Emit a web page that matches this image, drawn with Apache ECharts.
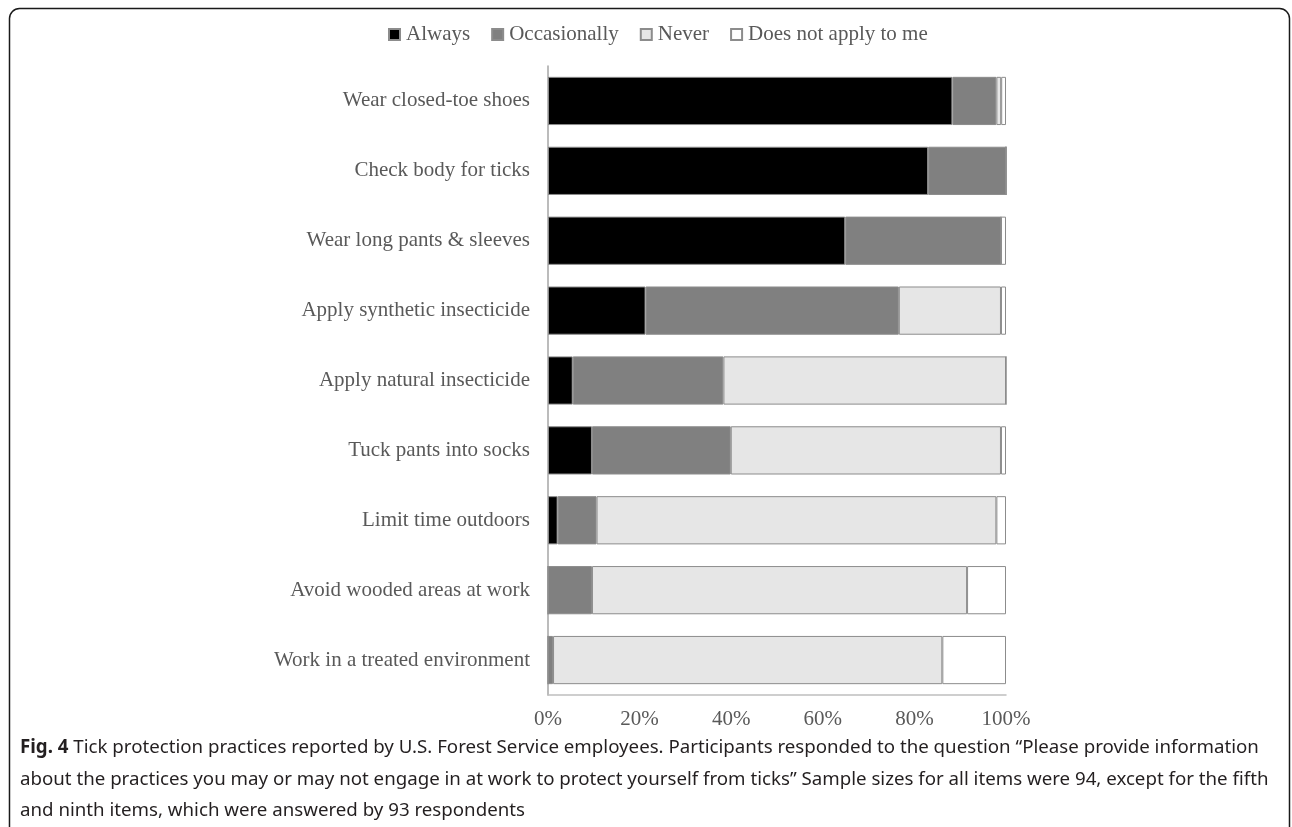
<!DOCTYPE html>
<html lang="en" style="height: 100%">
<head>
<meta charset="utf-8">
<title>Tick protection practices</title>
</head>
<body style="height: 100%; margin: 0; background: #fff">
<div id="container" style="width: 1292px; height: 827px"></div>

<script type="text/javascript" src="https://cdn.jsdelivr.net/npm/echarts/dist/echarts.min.js"></script>

<script type="text/javascript">
// practices, top to bottom
var categories = [
  'Wear closed-toe shoes',
  'Check body for ticks',
  'Wear long pants & sleeves',
  'Apply synthetic insecticide',
  'Apply natural insecticide',
  'Tuck pants into socks',
  'Limit time outdoors',
  'Avoid wooded areas at work',
  'Work in a treated environment'
];

// percent of respondents
var always       = [88.3, 83.0, 64.9, 21.3, 5.4, 9.6, 2.1, 0, 0];
var occasionally = [9.6, 17.0, 34.0, 55.3, 32.9, 30.3, 8.5, 9.6, 1.1];
var never        = [1.05, 0, 0, 22.3, 61.7, 59.0, 87.3, 81.9, 85.0];
var notApply     = [1.05, 0, 1.1, 1.1, 0, 1.1, 2.1, 8.5, 13.9];

var xTicks = [0, 20, 40, 60, 80, 100];

var serif = '"Liberation Serif", "Times New Roman", serif';
var sans = '"Noto Sans", "Open Sans", sans-serif';

var dom = document.getElementById('container');
var myChart = echarts.init(dom);

function makeSeries(name, data, color) {
  return {
    name: name,
    type: 'bar',
    stack: 'total',
    barCategoryGap: '31%',
    data: data,
    itemStyle: {
      color: color,
      borderColor: '#8c8c8c',
      borderWidth: 1
    }
  };
}

var option = {
  animation: false,
  backgroundColor: '#fff',
  title: {
    left: 15,
    top: 727,
    text: '{b|Fig. 4} Tick protection practices reported by U.S. Forest Service employees. Participants responded to the question \u201cPlease provide information\n' +
      'about the practices you may or may not engage in at work to protect yourself from ticks\u201d Sample sizes for all items were 94, except for the fifth\n' +
      'and ninth items, which were answered by 93 respondents',
    textStyle: {
      fontFamily: sans,
      fontSize: 18.7,
      fontWeight: 'normal',
      color: '#231f20',
      lineHeight: 31.5,
      rich: {
        b: { fontFamily: sans, fontSize: 18.7, fontWeight: 'bold', color: '#231f20', lineHeight: 31.5 }
      }
    }
  },
  legend: {
    top: 19,
    left: 383,
    icon: 'rect',
    itemWidth: 11,
    itemHeight: 11,
    itemGap: 21,
    textStyle: { fontFamily: serif, fontSize: 21, color: '#595959', padding: [0, 0, 0, 1] },
    data: ['Always', 'Occasionally', 'Never', 'Does not apply to me']
  },
  grid: {
    left: 548,
    right: 286,
    top: 66,
    bottom: 132
  },
  xAxis: {
    type: 'value',
    min: xTicks[0],
    max: xTicks[xTicks.length - 1],
    interval: 20,
    axisLine: { show: true, lineStyle: { color: '#bfbfbf', width: 1.5 } },
    axisTick: { show: false },
    splitLine: { show: false },
    axisLabel: {
      formatter: '{value}%',
      fontFamily: serif,
      fontSize: 21,
      color: '#595959',
      margin: 14
    }
  },
  yAxis: {
    type: 'category',
    inverse: true,
    data: categories,
    axisLine: { show: true, lineStyle: { color: '#a6a6a6', width: 1.5 } },
    axisTick: { show: false },
    axisLabel: {
      fontFamily: serif,
      fontSize: 21,
      color: '#595959',
      margin: 18
    }
  },
  series: [
    makeSeries('Always', always, '#000000'),
    makeSeries('Occasionally', occasionally, '#808080'),
    makeSeries('Never', never, '#e6e6e6'),
    makeSeries('Does not apply to me', notApply, '#ffffff')
  ],
  graphic: [
    {
      type: 'rect',
      silent: true,
      z: 100,
      shape: { x: 9.5, y: 8.5, width: 1280, height: 830, r: 10 },
      style: { fill: 'none', stroke: '#1a1a1a', lineWidth: 1.5 }
    }
  ]
};

myChart.setOption(option);
window.addEventListener('resize', myChart.resize);
</script>
</body>
</html>
